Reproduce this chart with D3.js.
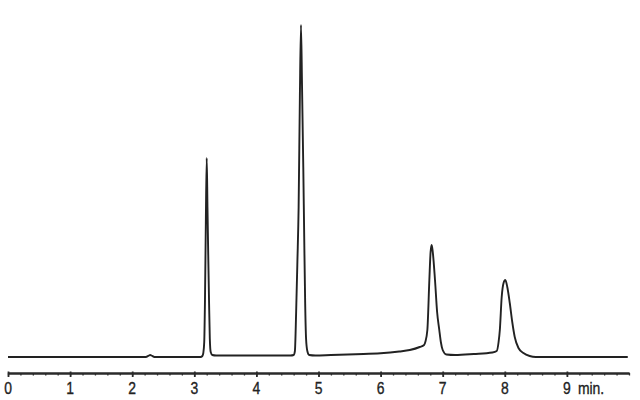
<!DOCTYPE html>
<meta charset="utf-8">
<style>
  body { margin: 0; background: #fff; }
  .trace { fill: none; stroke: #222; stroke-width: 1.9; stroke-linejoin: round; }
  .axis path, .axis line { stroke: #2a2a2a; }
  .axis path { stroke-width: 2; }
  .tick-label { font-family: "Liberation Sans", Arial, sans-serif; font-size: 17px; fill: #222; stroke: #222; stroke-width: 0.35; }
</style>
<svg width="640" height="400"></svg>
<script src="https://cdn.jsdelivr.net/npm/d3@7"></script>
<script>
  // retention time (min) and detector signal
  var times = [0, 1.0, 2.0, 2.22, 2.27, 2.29, 2.31, 2.36, 2.8, 3.10, 3.13, 3.145, 3.16, 3.172, 3.185, 3.200,
    3.212, 3.225, 3.237, 3.25, 3.264, 3.29, 3.35, 4.0, 4.55, 4.60, 4.62, 4.64, 4.66, 4.68, 4.70, 4.718,
    4.735, 4.755, 4.77, 4.785, 4.80, 4.82, 4.85, 4.95, 5.2, 5.6, 6.0, 6.3, 6.47, 6.63, 6.70,
    6.72, 6.753, 6.785, 6.805, 6.822, 6.84, 6.876, 6.91, 6.945, 6.97, 7.00, 7.06, 7.2, 7.5, 7.8, 7.87,
    7.90, 7.92, 7.95, 7.98, 8.008, 8.04, 8.08, 8.12, 8.16, 8.22, 8.30, 8.40, 8.5, 9.0, 9.98];
  var signal = [0, 0, 0, 0, 1.5, 2, 1.5, 0, 0, 0, 1, 4, 15, 57, 130, 199,
    150, 100, 57, 18, 5, 2, 1.5, 1.5, 1.5, 2, 6, 45, 95, 150, 260, 332,
    270, 190, 120, 55, 18, 6, 2, 1.5, 2, 2.8, 3.7, 5.5, 7, 10, 12,
    15, 27, 77, 105, 112, 105, 77, 45, 27, 15, 7, 2.5, 2, 3, 4.5, 6,
    15, 27, 60, 74, 77, 70, 54, 35, 20, 9, 4, 1, 0, 0, 0];

  var majorTicks = [0, 1, 2, 3, 4, 5, 6, 7, 8, 9];
  var tickLabels = ["0", "1", "2", "3", "4", "5", "6", "7", "8", "9"];
  var unitLabel = "min.";

  var svg = d3.select("svg");

  var x = d3.scaleLinear().domain([0, 10]).range([8, 629]);
  var y = d3.scaleLinear().domain([0, 332]).range([357, 25]);

  var line = d3.line()
      .x(function(d, i) { return x(times[i]); })
      .y(function(d) { return y(d); })
      .curve(d3.curveMonotoneX);

  svg.append("path")
      .attr("class", "trace")
      .attr("d", line(signal));

  var axisY = 373;

  // minor ticks every 0.2 min
  svg.append("g")
      .attr("class", "axis")
      .attr("transform", "translate(0," + axisY + ")")
      .call(d3.axisBottom(x).tickValues(d3.range(0, 10.01, 0.2)).tickSize(2.5).tickSizeOuter(0).tickFormat(""))
    .selectAll(".tick line").attr("stroke-width", 1.3);

  var major = svg.append("g")
      .attr("class", "axis")
      .attr("transform", "translate(0," + axisY + ")")
      .call(d3.axisBottom(x).tickValues(majorTicks).tickSize(4).tickSizeOuter(0).tickFormat(""));
  major.selectAll(".tick line").attr("stroke-width", 1.8).attr("y1", -1.5);

  svg.selectAll(".tick-label")
      .data(majorTicks)
    .enter().append("text")
      .attr("class", "tick-label")
      .attr("text-anchor", "middle")
      .attr("transform", function(d) { return "translate(" + x(d) + ",394) scale(0.82,1)"; })
      .text(function(d, i) { return tickLabels[i]; });

  svg.append("text")
      .attr("class", "tick-label")
      .attr("transform", "translate(" + (x(9) + 11) + ",394) scale(0.82,1)")
      .text(unitLabel);
</script>
